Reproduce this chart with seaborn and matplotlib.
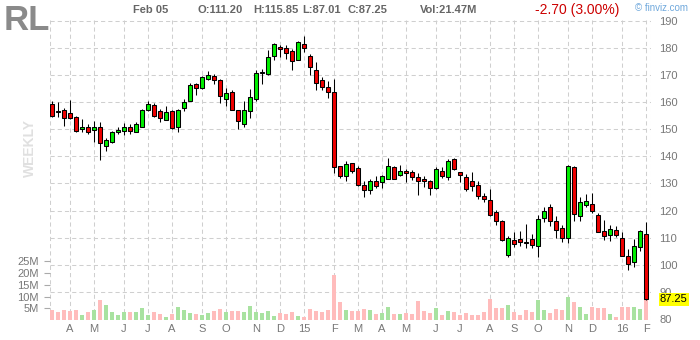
import numpy as np
import pandas as pd
import matplotlib
matplotlib.use("Agg")
import matplotlib.pyplot as plt
import matplotlib.transforms as mtransforms
import seaborn as sns

ticker = "RL"
header_date = "Feb 05"
header_ohlc = ["O:111.20", "H:115.85", "L:87.01", "C:87.25"]
header_vol = "Vol:21.47M"
header_change = "-2.70 (3.00%)"
last_price = 87.25

opens = [159.2, 156.7, 157.1, 155.9, 154.4, 150.0, 150.7, 149.6, 150.7, 143.7,
         145.2, 148.9, 149.3, 151.0, 148.9, 151.0, 157.0, 158.8, 156.6, 153.3,
         156.6, 150.7, 157.7, 160.6, 166.6, 165.1, 168.4, 169.5, 168.0, 161.2,
         163.7, 157.0, 151.8, 156.6, 161.2, 170.8, 170.3, 176.9, 180.2, 179.9,
         178.7, 175.4, 181.3, 176.9, 171.8, 168.0, 165.5, 163.7, 136.3, 132.8,
         137.5, 135.6, 129.4, 127.5, 130.8, 130.6, 131.5, 136.0, 133.1, 134.5,
         134.1, 132.3, 131.5, 130.8, 128.5, 134.5, 132.3, 138.9, 134.1, 132.3,
         130.8, 129.4, 125.3, 123.8, 119.6, 116.1, 103.5, 109.0, 109.4, 108.4,
         109.4, 106.9, 117.2, 121.2, 116.0, 113.5, 109.8, 136.0, 117.9, 121.9,
         122.3, 118.3, 112.3, 110.9, 112.7, 109.8, 103.2, 100.9, 106.4, 111.2]
highs = [160.4, 160.1, 157.7, 160.8, 155.0, 153.7, 151.8, 153.1, 152.5, 146.6,
         149.2, 150.8, 152.2, 152.0, 152.5, 157.5, 160.4, 159.6, 157.4, 158.7,
         157.1, 157.3, 161.1, 166.9, 167.2, 169.5, 171.5, 170.5, 168.4, 165.1,
         164.5, 157.0, 160.6, 164.8, 171.8, 172.1, 179.3, 181.7, 181.0, 181.0,
         179.5, 182.4, 184.4, 177.6, 174.8, 169.4, 167.7, 168.4, 136.5, 138.3,
         137.5, 136.3, 130.8, 131.5, 132.8, 133.1, 139.4, 136.3, 136.7, 135.3,
         135.0, 133.8, 132.8, 131.4, 135.9, 135.9, 138.9, 139.4, 134.1, 133.4,
         134.1, 130.8, 126.6, 127.9, 120.2, 116.5, 110.5, 112.0, 112.3, 114.9,
         111.3, 118.3, 121.2, 122.3, 117.9, 114.6, 136.7, 136.3, 124.9, 126.0,
         126.4, 119.0, 116.5, 114.6, 114.2, 112.0, 105.7, 109.4, 112.7, 115.85]
lows = [154.4, 154.6, 151.2, 153.8, 148.8, 148.8, 148.4, 145.2, 138.7, 141.9,
        145.1, 148.4, 148.0, 148.4, 148.8, 151.0, 156.6, 154.6, 152.8, 153.3,
        150.2, 148.8, 156.6, 160.6, 162.8, 165.0, 168.2, 166.7, 159.8, 158.7,
        157.0, 150.2, 151.0, 154.3, 160.6, 166.6, 169.9, 175.4, 176.5, 175.8,
        171.7, 175.4, 178.5, 169.9, 164.4, 164.4, 161.7, 133.8, 131.9, 131.0,
        133.8, 129.1, 124.9, 126.2, 128.5, 128.2, 131.5, 131.5, 132.8, 130.4,
        131.4, 125.9, 128.6, 125.9, 128.0, 131.9, 131.2, 135.0, 130.4, 127.1,
        127.1, 124.2, 123.3, 118.0, 114.8, 108.8, 103.0, 106.5, 106.8, 106.1,
        106.1, 102.8, 115.8, 114.4, 109.8, 108.3, 108.0, 116.1, 116.1, 121.2,
        119.0, 112.0, 109.0, 108.7, 110.1, 103.2, 98.0, 99.1, 104.9, 87.01]
closes = [155.0, 156.3, 154.0, 154.3, 149.3, 150.8, 148.9, 151.0, 144.8, 145.9,
          148.8, 149.6, 150.7, 149.3, 151.8, 157.0, 159.2, 155.0, 154.0, 156.3,
          150.6, 157.0, 160.1, 166.2, 165.1, 169.1, 169.9, 168.0, 162.1, 163.3,
          157.0, 152.9, 157.0, 161.9, 170.6, 171.0, 176.5, 181.3, 179.5, 178.0,
          175.0, 182.1, 179.9, 172.9, 167.0, 165.5, 163.7, 136.0, 132.8, 137.1,
          134.5, 129.4, 127.6, 130.8, 128.9, 132.8, 136.3, 131.5, 134.5, 133.8,
          132.3, 130.8, 130.8, 128.2, 135.3, 132.9, 138.2, 135.3, 133.1, 127.9,
          129.0, 125.2, 124.2, 118.5, 116.3, 109.0, 109.8, 107.6, 108.3, 108.0,
          107.2, 116.9, 119.7, 116.0, 112.7, 109.8, 136.3, 118.6, 123.0, 123.4,
          119.7, 112.0, 110.5, 113.1, 110.9, 103.2, 100.2, 106.8, 112.3, 87.25]
volumes_m = [4.4, 3.5, 4.4, 3.9, 4.4, 2.2, 3.5, 4.4, 8.6, 6.5,
             3.5, 2.2, 3.5, 3.5, 3.5, 5.2, 2.2, 3.5, 2.6, 1.4,
             2.6, 5.6, 4.4, 3.0, 2.6, 2.2, 3.0, 3.9, 4.8, 3.5,
             3.9, 3.9, 3.5, 6.1, 3.5, 3.0, 3.9, 1.8, 3.0, 2.6,
             3.5, 1.8, 1.4, 4.8, 3.9, 3.5, 4.4, 19.3, 7.8, 4.4,
             3.9, 3.9, 4.8, 4.4, 2.6, 3.0, 5.6, 2.6, 2.6, 3.0,
             2.6, 8.2, 3.9, 3.0, 5.2, 2.2, 3.9, 3.5, 2.2, 3.0,
             2.2, 2.2, 3.5, 9.0, 5.2, 5.2, 6.5, 3.5, 2.2, 4.4,
             3.5, 8.6, 4.4, 3.0, 4.8, 4.4, 9.9, 7.8, 5.6, 2.6,
             5.6, 5.2, 5.2, 2.6, 1.4, 5.6, 5.6, 5.6, 4.8, 21.47]

month_pos = [3, 7, 12, 16, 20, 25, 29, 34, 38, 42, 47, 51, 55, 59, 64, 68,
             73, 77, 81, 86, 90, 95, 99]
month_labels = ["A", "M", "J", "J", "A", "S", "O", "N", "D", "15", "F", "M",
                "A", "M", "J", "J", "A", "S", "O", "N", "D", "16", "F"]
price_ticks = [80, 90, 100, 110, 120, 130, 140, 150, 160, 170, 180, 190]
price_grid = [90, 100, 110, 120, 130, 140, 150, 160, 170, 180, 190]
vol_ticks = [5, 10, 15, 20, 25]
vol_labels = ["5M", "10M", "15M", "20M", "25M"]

# ---------------------------------------------------------------- style
sns.set_theme(style="white")
plt.rcParams["font.family"] = ["Liberation Sans", "DejaVu Sans"]
plt.rcParams["lines.scale_dashes"] = False

UP = "#00ee00"
DOWN = "#ee0000"
VUP = "#a8e2a0"
VDOWN = "#ffbcbc"
GRID = "#cfcfcf"
TXT = "#777777"
dash = (0, (3.0, 2.2))

W, H = 700, 340
fig = plt.figure(figsize=(7, 3.4), dpi=100)
rect = [50 / W, 20 / H, 601 / W, 300 / H]
ax_g = fig.add_axes(rect, label="grid")
ax_v = fig.add_axes(rect, label="volume")
ax_p = fig.add_axes(rect, label="price")

XL = (-0.333, 99.83)
YL = (79.63, 190.3)

weeks = np.arange(len(closes))
direction = ["up" if c >= o else "down" for o, c in zip(opens, closes)]

# ---------------------------------------------------------------- grid layer
ax_g.set_xlim(*XL)
ax_g.set_ylim(*YL)
for p in price_grid:
    ax_g.axhline(p, color=GRID, lw=0.75, ls=dash, zorder=0)
for m in month_pos:
    ax_g.axvline(m, color=GRID, lw=0.75, ls=dash, zorder=0)
ax_g.axvline(XL[0], color=GRID, lw=0.75, ls=dash, zorder=0)
ax_g.axvline(XL[1], color=GRID, lw=0.75, ls=dash, zorder=0)
ax_g.yaxis.tick_right()
ax_g.set_yticks(price_ticks)
ax_g.set_yticklabels([str(t) for t in price_ticks])
ax_g.set_xticks(month_pos)
ax_g.set_xticklabels(month_labels)
ax_g.tick_params(axis="y", length=0, pad=6, labelcolor=TXT, labelsize=8)
ax_g.tick_params(axis="x", length=0, pad=3, labelcolor=TXT, labelsize=8)
for s in ax_g.spines.values():
    s.set_visible(False)
ax_g.grid(False)

# ---------------------------------------------------------------- volume layer
vdf = pd.DataFrame({"week": weeks, "vol": volumes_m, "dir": direction})
sns.barplot(data=vdf, x="week", y="vol", hue="dir",
            palette={"up": VUP, "down": VDOWN}, native_scale=True,
            dodge=False, width=0.8, errorbar=None, legend=False,
            saturation=1, linewidth=0, ax=ax_v)
ax_v.set_xlim(*XL)
ax_v.set_ylim(0, 128.2)
ax_v.set_facecolor("none")
ax_v.set_xticks([])
ax_v.set_xlabel("")
ax_v.set_ylabel("")
ax_v.set_yticks(vol_ticks)
ax_v.set_yticklabels(vol_labels)
ax_v.tick_params(axis="y", left=True, length=4, width=0.8, color="#aaaaaa",
                 pad=4, labelcolor=TXT, labelsize=8)
for s in ax_v.spines.values():
    s.set_visible(False)
ax_v.grid(False)

# ---------------------------------------------------------------- candle layer
ax_p.set_facecolor("none")
ax_p.set_xlim(*XL)
ax_p.set_ylim(*YL)
ax_p.vlines(weeks, lows, highs, color="black", lw=0.75, zorder=2)
o = np.array(opens)
c = np.array(closes)
bottoms = np.minimum(o, c)
heights = np.maximum(np.abs(c - o), 0.3)
ax_p.bar(weeks, heights, bottom=bottoms, width=0.68,
         color=[UP if d == "up" else DOWN for d in direction],
         edgecolor="black", linewidth=0.75, zorder=3)
ax_p.set_xticks([])
ax_p.set_yticks([])
for s in ax_p.spines.values():
    s.set_visible(False)
ax_p.grid(False)

trans = mtransforms.blended_transform_factory(ax_p.transAxes, ax_p.transData)
ax_p.text(1 + 9 / 601, last_price, f"{last_price:.2f}", transform=trans,
          ha="left", va="center", fontsize=8, color="black", clip_on=False,
          zorder=10,
          bbox=dict(boxstyle="square,pad=0.12", fc="#ffff00", ec="none"))

# ---------------------------------------------------------------- header texts
def ft(x, y, s, **kw):
    fig.text(x / W, 1 - y / H, s, **kw)

ft(4, 20, ticker, fontsize=25, fontweight="bold", color="#8a8a8a",
   ha="left", va="center")
ft(133, 10, header_date, fontsize=8, fontweight="bold", color="#666666",
   ha="left", va="center")
for x0, s in zip([198, 253, 302, 347], header_ohlc):
    ft(x0, 10, s, fontsize=8, fontweight="bold", color="#666666",
       ha="left", va="center")
ft(420, 10, header_vol, fontsize=8, fontweight="bold", color="#666666",
   ha="left", va="center")
ft(535, 10, header_change, fontsize=10, color="#cc0000",
   ha="left", va="center")
ft(635, 8, "\u00a9 finviz.com", fontsize=7, color="#6fa8dc",
   ha="left", va="center")
ft(30, 148, "WEEKLY", fontsize=10, fontweight="bold", color="#e0e0e0",
   rotation=90, ha="center", va="center")

fig.savefig("out.png", dpi=100)
